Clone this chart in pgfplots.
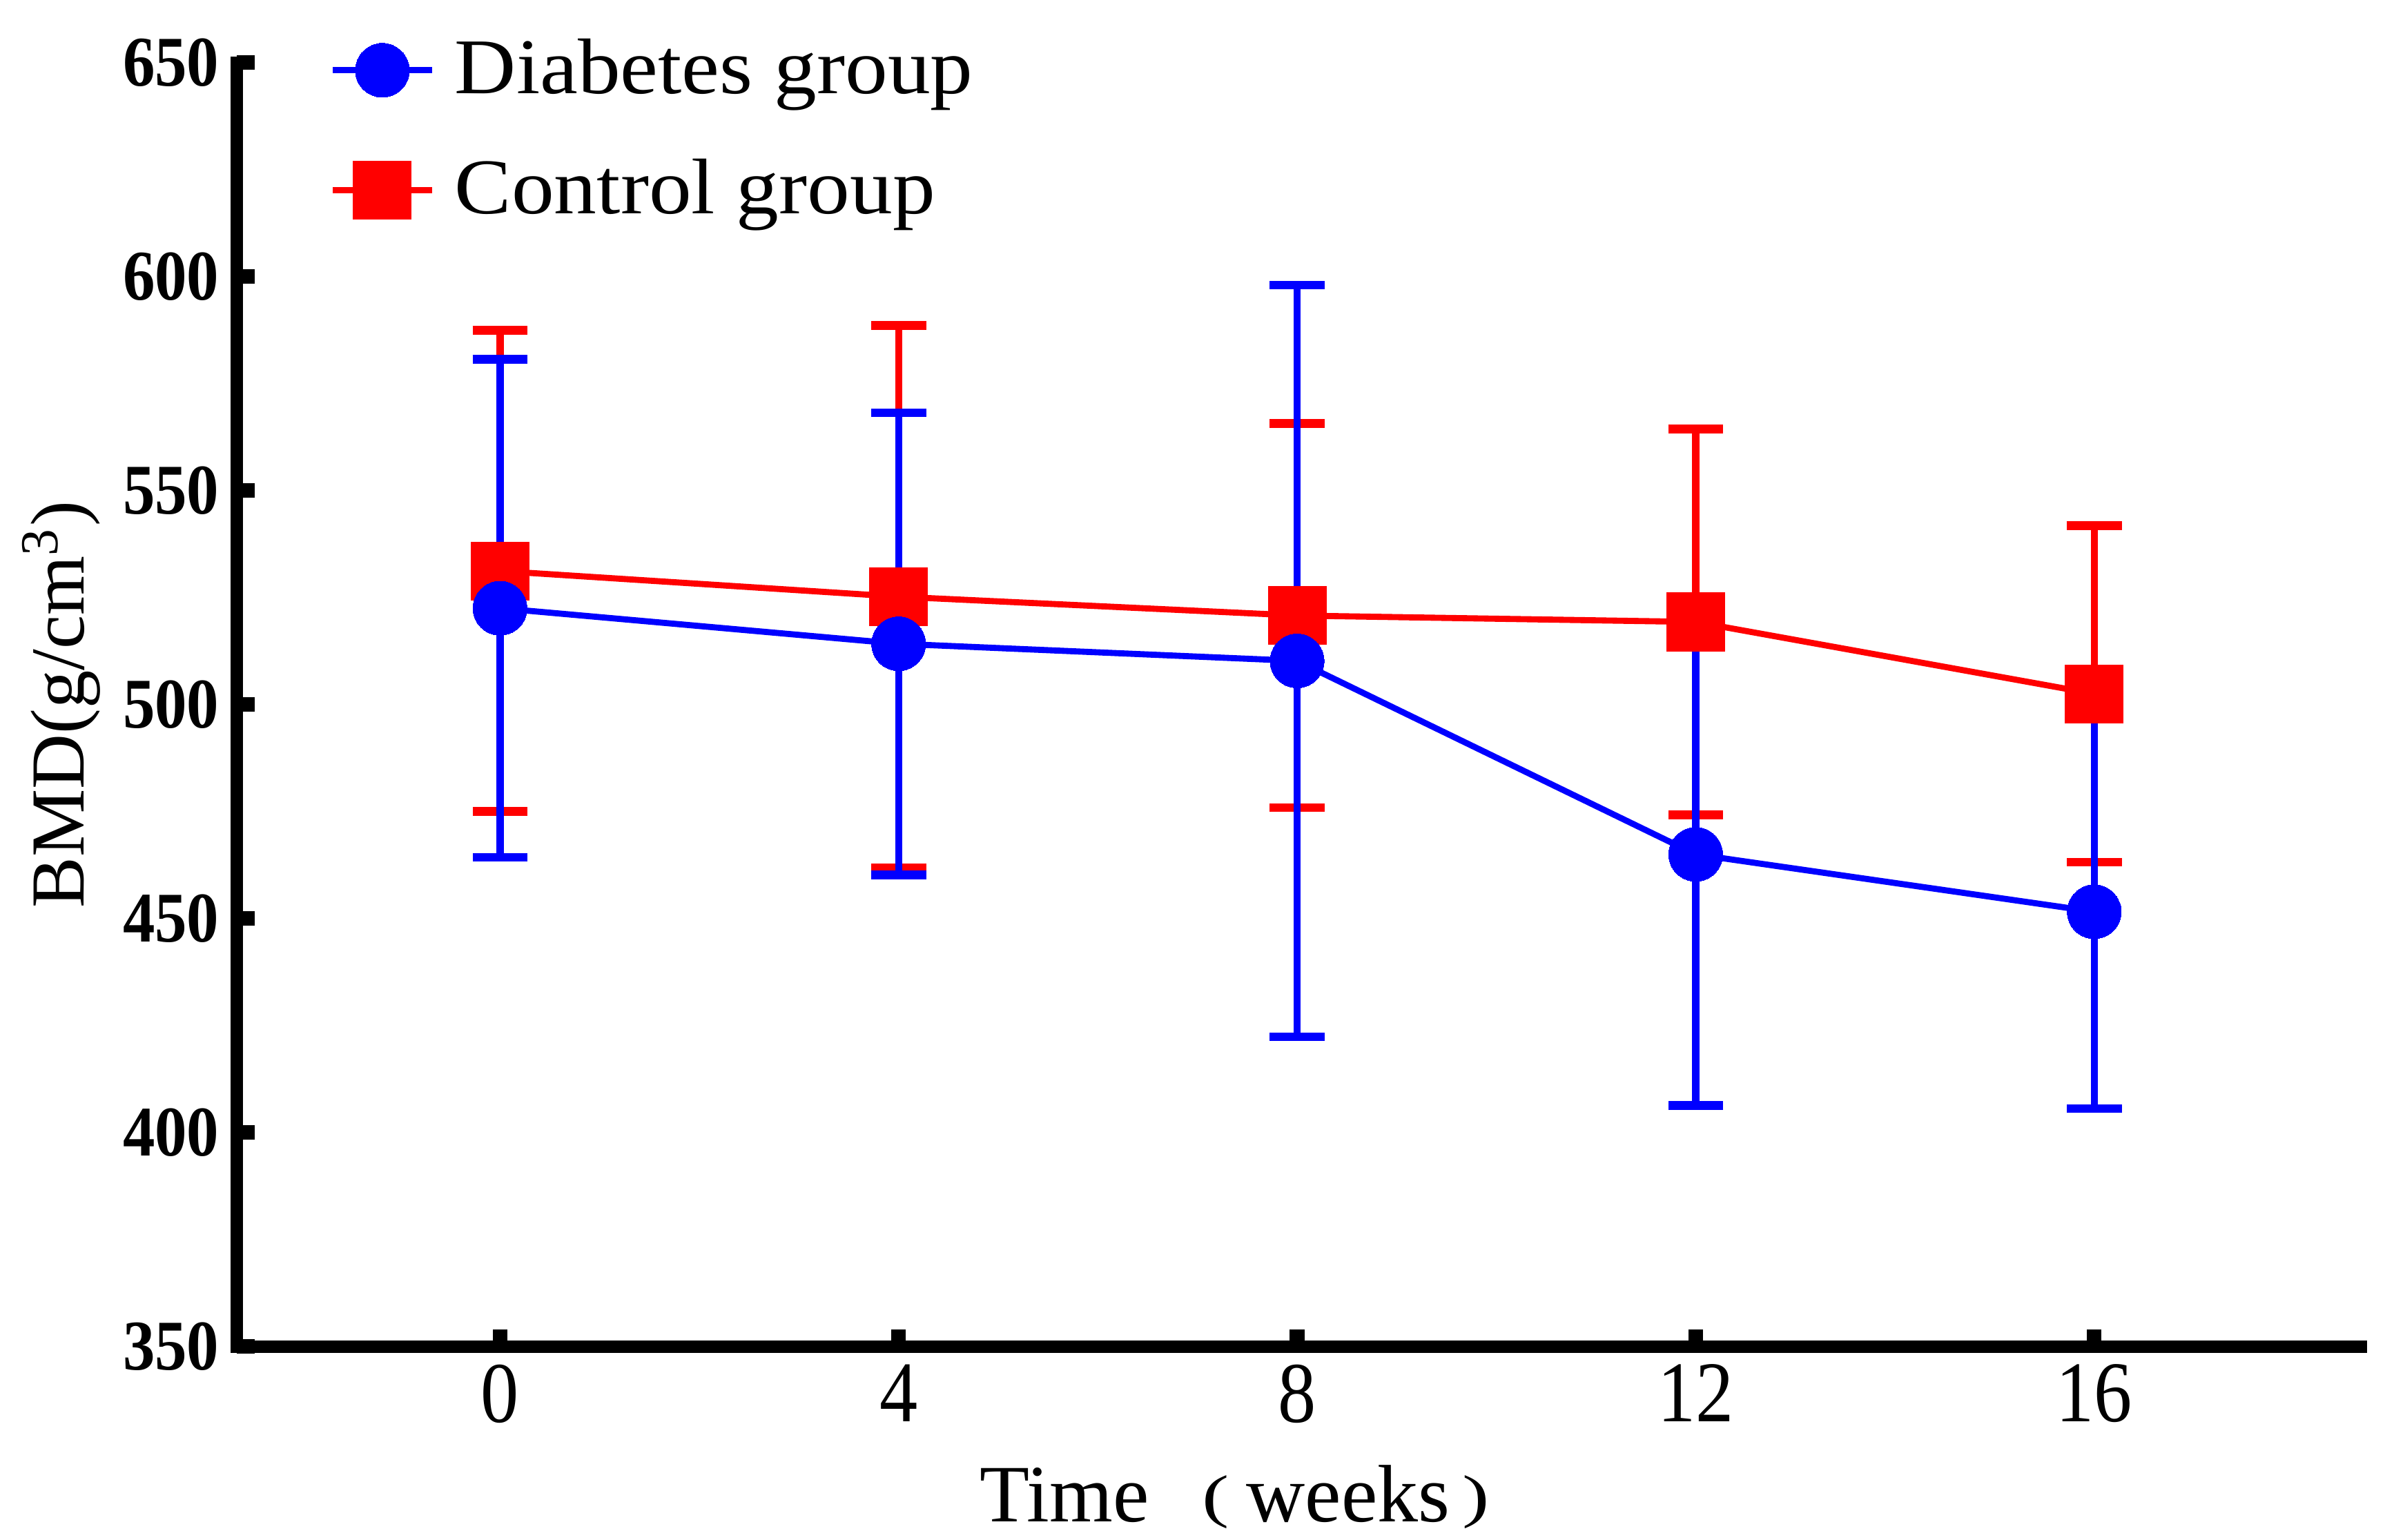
\documentclass[border=0pt]{standalone}
\usepackage{fontspec}
\setmainfont{Liberation Serif}
\newfontfamily\xtf[FakeStretch=0.88]{Liberation Serif}
\newfontfamily\ytf[FakeStretch=0.9]{Liberation Serif}
\newfontfamily\lgf[FakeStretch=1.08]{Liberation Serif}
\usepackage{graphicx}
\usepackage{pgfplots}
\pgfplotsset{compat=1.18}
\usepackage{pgfplotstable}

\newcommand\lpar{\raisebox{1.2pt}{\scalebox{1}[0.72]{(}}}
\newcommand\rpar{\raisebox{1.2pt}{\scalebox{1}[0.72]{)}}}

\pgfplotstableread{
x y e
0 522.5 58.2
4 514.2 54.0
8 510.2 87.8
12 465.0 58.7
16 451.6 46.0
}\diab
\pgfplotstableread{
x y e
0 531.2 56.2
4 525.2 63.4
8 520.8 44.9
12 519.3 45.1
16 502.5 39.3
}\ctrl

\begin{document}
\begin{tikzpicture}
\begin{axis}[
  scale only axis, width=417.33pt, height=252.3pt,
  xmin=-2.639, xmax=18.678, ymin=350, ymax=650,
  axis lines=left,
  axis line style={-, line width=2.44pt, line cap=rect, black},
  xtick={0,4,8,12,16}, ytick={350,400,...,650},
  tick align=inside, major tick length=3.4pt,
  tick style={line width=2.9pt, black},
  /pgf/number format/assume math mode=true,
  xticklabel style={font=\xtf\fontsize{17}{17}\selectfont},
  yticklabel style={font=\ytf\bfseries\fontsize{14}{14}\selectfont},
  ylabel={BMD(g/cm\textsuperscript{3})},
  ylabel style={at={(axis description cs:-0.0721,0.5)}, anchor=base, font=\fontsize{15}{15}\selectfont},
  xlabel={Time\hspace{10.4pt}\lpar\hspace{3.4pt}weeks\hspace{2.5pt}\rpar},
  xlabel style={at={(axis description cs:0.3414,-0.1367)}, anchor=base west, font=\fontsize{16}{16}\selectfont},
  legend image code/.code={\draw[mark repeat=2,mark phase=2,#1] plot coordinates {(0pt,0pt) (9.75pt,0pt) (19.5pt,0pt)};},
  legend style={at={(axis description cs:0.0436,1.0183)}, anchor=north west, draw=none, fill=none,
    inner sep=0pt, outer sep=0pt, row sep=11.35pt, column sep=3.9pt,
    nodes={inner sep=0pt}, font=\lgf\fontsize{15.5}{16}\selectfont},
  legend cell align=left,
  reverse legend,
]
\addplot[red, line width=1.2pt, mark=square*, mark size=5.7pt,
  mark options={solid, fill=red, draw=red, line width=0pt},
  error bars/.cd, y dir=both, y explicit,
  error bar style={line width=1.4pt, red},
  error mark options={rotate=90, mark size=5.4pt, line width=1.7pt, red}]
  table[x=x, y=y, y error=e] {\ctrl};
\addlegendentry{Control group}
\addplot[blue, line width=1.2pt, mark=*, mark size=5.3pt,
  mark options={solid, fill=blue, draw=blue, line width=0pt},
  error bars/.cd, y dir=both, y explicit,
  error bar style={line width=1.4pt, blue},
  error mark options={rotate=90, mark size=5.4pt, line width=1.7pt, blue}]
  table[x=x, y=y, y error=e] {\diab};
\addlegendentry{Diabetes group}
\coordinate (bbsw) at (rel axis cs:-0.11164,-0.15065);
\coordinate (bbne) at (rel axis cs:1.01553,1.04875);
\end{axis}
\pgfresetboundingbox
\useasboundingbox (bbsw) rectangle (bbne);
\end{tikzpicture}
\end{document}
